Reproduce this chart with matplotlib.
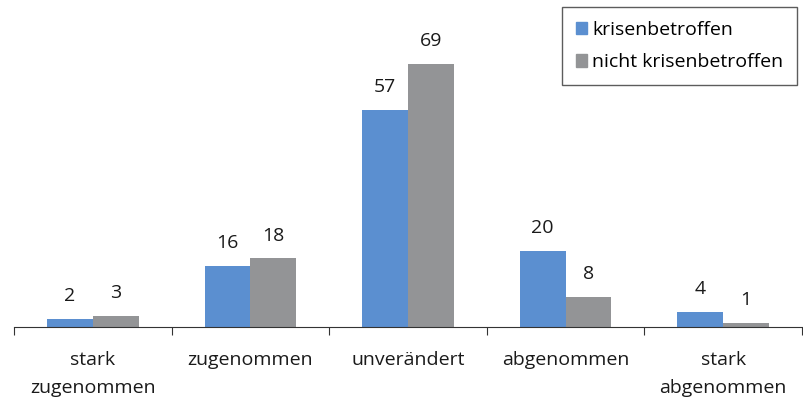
import numpy as np
import matplotlib.pyplot as plt
from matplotlib.patches import Patch

categories = ['stark\nzugenommen', 'zugenommen', 'unverändert', 'abgenommen', 'stark\nabgenommen']
krisen = [2, 16, 57, 20, 4]
nicht_krisen = [3, 18, 69, 8, 1]
series_names = ['krisenbetroffen', 'nicht krisenbetroffen']

blue = '#5b8fd0'
gray = '#939496'

plt.rcParams['font.family'] = ['Open Sans', 'DejaVu Sans']

fig = plt.figure(figsize=(8.04, 4.03), dpi=100)
W, H = 804, 403
ax = fig.add_axes([14 / W, (H - 327) / H, (802 - 14) / W, (327 - 7) / H])

x = np.arange(len(categories))
w = 0.29
b1 = ax.bar(x - w / 2, krisen, w, color=blue)
b2 = ax.bar(x + w / 2, nicht_krisen, w, color=gray)

for bars, vals in ((b1, krisen), (b2, nicht_krisen)):
    for bar, v in zip(bars, vals):
        ax.annotate(str(v), (bar.get_x() + bar.get_width() / 2, v),
                    xytext=(0, 10), textcoords='offset points',
                    ha='center', va='bottom', fontsize=14, color='#1a1a1a')

ax.set_xlim(-0.5, len(categories) - 0.5)
ax.set_ylim(0, 84)
for s in ('top', 'right', 'left'):
    ax.spines[s].set_visible(False)
ax.spines['bottom'].set_color('#333333')
ax.set_yticks([])
ax.set_xticks(np.arange(len(categories) + 1) - 0.5)
ax.set_xticklabels([])
ax.tick_params(axis='x', length=6, color='#333333')
ax.set_xticks(x, minor=True)
ax.set_xticklabels(categories, minor=True, fontsize=14, color='#1a1a1a', linespacing=1.75)
ax.tick_params(axis='x', which='minor', length=0, pad=17)

handles = [Patch(color=blue), Patch(color=gray)]
leg = ax.legend(handles, series_names, loc='upper right', bbox_to_anchor=(1.0 - 5 / 788, 1.0),
                fontsize=14, frameon=True, fancybox=False, edgecolor='#333333',
                handlelength=0.6, handleheight=0.6, handletextpad=0.25,
                labelspacing=0.75, borderpad=0.7, borderaxespad=0)
leg.get_frame().set_linewidth(1.0)

fig.savefig('out.png', dpi=100)
